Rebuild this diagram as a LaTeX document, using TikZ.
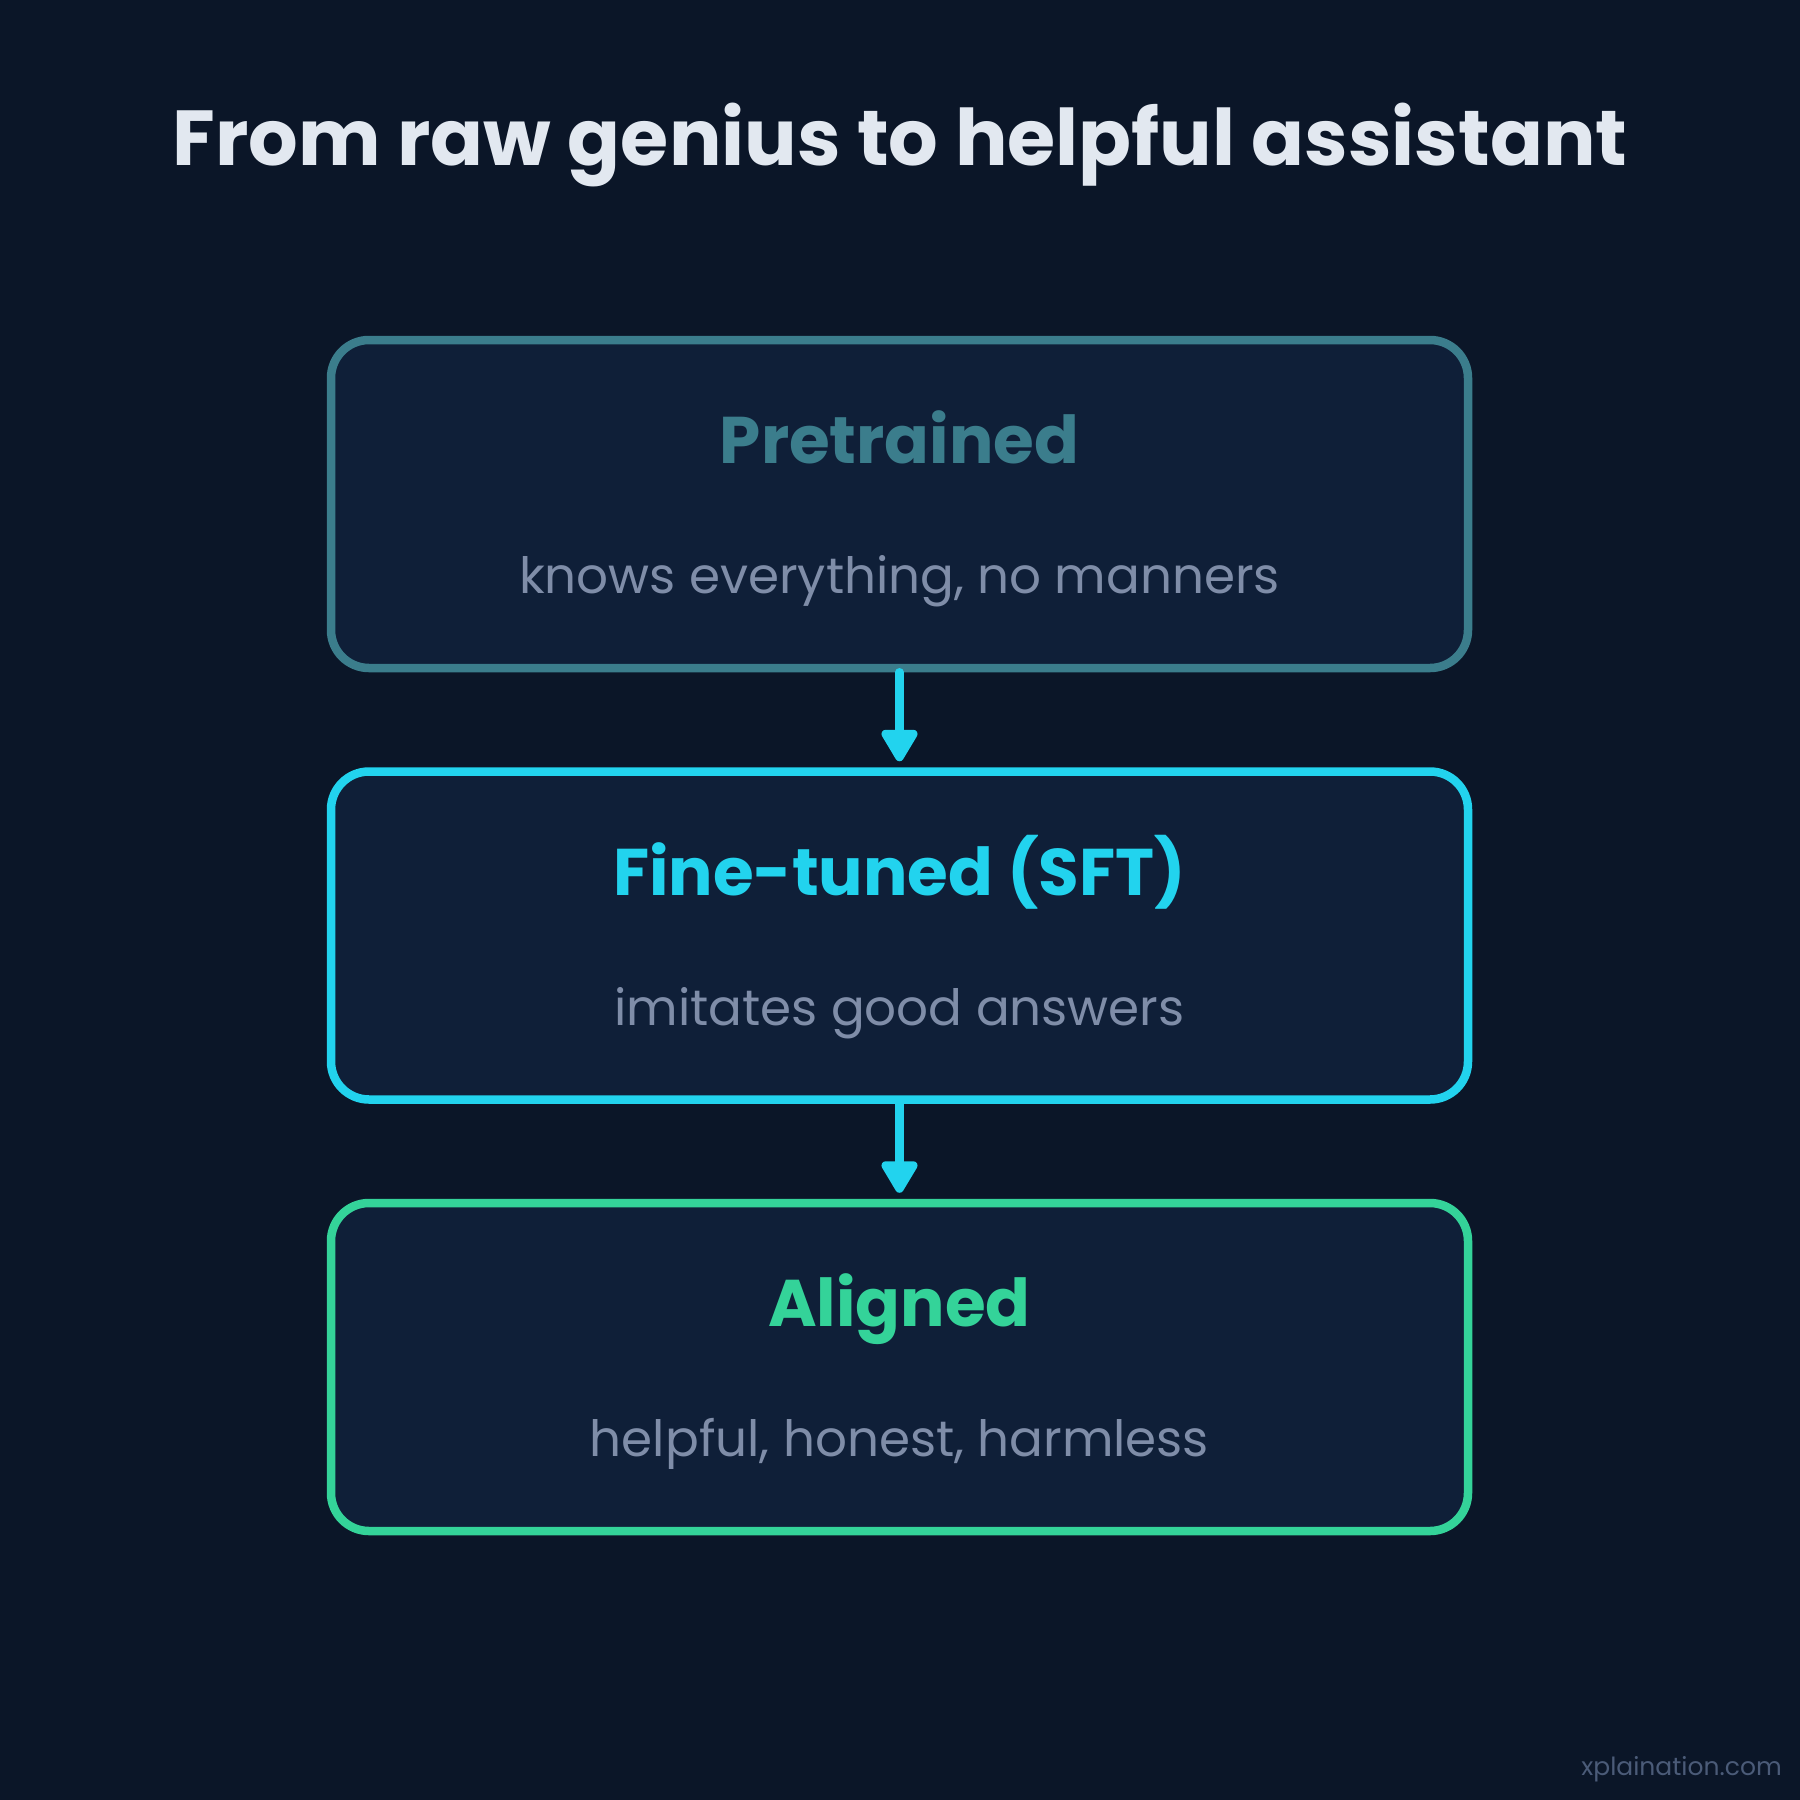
\documentclass[tikz,border=0pt]{standalone}
\usepackage{fontspec}
\setmainfont{Poppins}
\usetikzlibrary{arrows.meta}
\definecolor{bg}{HTML}{0B1628}
\definecolor{boxfill}{HTML}{0F1F38}
\definecolor{titlecol}{HTML}{E2E8F0}
\definecolor{pretcol}{HTML}{3B7D8C}
\definecolor{sftcol}{HTML}{22D3EE}
\definecolor{aligncol}{HTML}{34D399}
\definecolor{subcol}{HTML}{7F8DA8}
\definecolor{footcol}{HTML}{4B5B78}
\tikzset{
  stagebox/.style={draw=#1, fill=boxfill, line width=8.5pt, rounded corners=38pt,
    minimum width=1137pt, minimum height=328pt, inner sep=0pt},
  headtxt/.style={anchor=base, text=#1, font=\fontsize{66}{70}\selectfont\bfseries, inner sep=0pt},
  subtxt/.style={anchor=base, text=subcol, font=\fontsize{50}{54}\selectfont, inner sep=0pt},
  flowarrow/.style={draw=sftcol, fill=sftcol, line width=8.5pt, line cap=round,
    -{Triangle[round, length=36pt, width=40pt]}, shorten >=6pt},
}
\begin{document}
\begin{tikzpicture}[x=1pt,y=-1pt]
\fill[bg] (0,0) rectangle (1800,1800);
\useasboundingbox (0,0) rectangle (1800,1800);
\node[anchor=base, text=titlecol, font=\fontsize{78}{84}\selectfont\bfseries, inner sep=0pt]
  (title) at (900,165) {From raw genius to helpful assistant};
\node[stagebox=pretcol] (pre) at (899.5,504) {};
\node[stagebox=sftcol] (sft) at (899.5,935.5) {};
\node[stagebox=aligncol] (ali) at (899.5,1367) {};
\node[headtxt=pretcol] (preh) at ([yshift=-128pt]pre.north) {Pretrained};
\node[subtxt] (pres) at ([yshift=-258pt]pre.north) {knows everything, no manners};
\node[headtxt=sftcol] (sfth) at ([yshift=-128pt]sft.north) {Fine-tuned (SFT)};
\node[subtxt] (sfts) at ([yshift=-258pt]sft.north) {imitates good answers};
\node[headtxt=aligncol] (alih) at ([yshift=-128pt]ali.north) {Aligned};
\node[subtxt] (alis) at ([yshift=-258pt]ali.north) {helpful, honest, harmless};
\draw[flowarrow] (pre.south) -- (sft.north);
\draw[flowarrow] (sft.south) -- (ali.north);
\node[anchor=base east, text=footcol, font=\fontsize{25}{28}\selectfont, inner sep=0pt]
  (foot) at (1782,1775) {xplaination.com};
\end{tikzpicture}
\end{document}
